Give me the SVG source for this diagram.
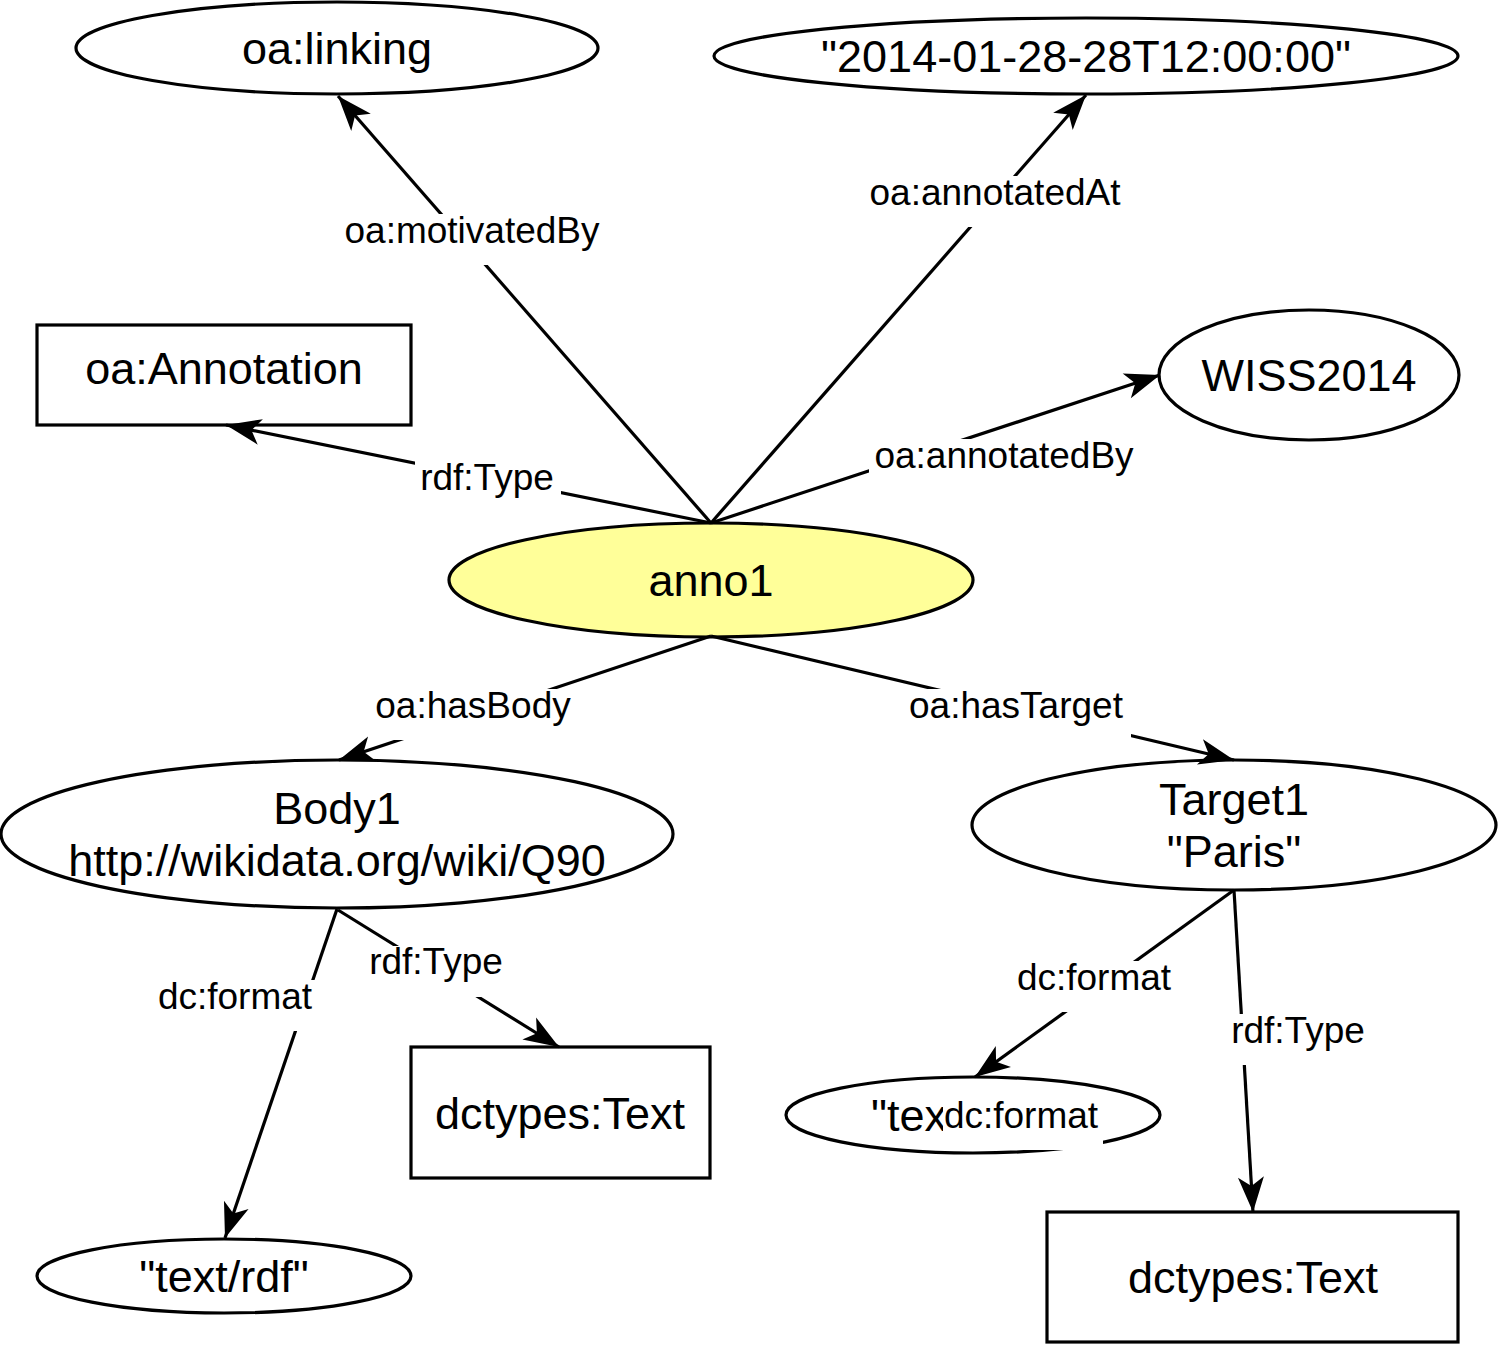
<svg xmlns="http://www.w3.org/2000/svg" width="1502" height="1352" viewBox="0 0 1502 1352">
<style>
.node{fill:#fff;stroke:#000;stroke-width:3.2}
.hl{fill:#ffff99}
.nt{font-family:"Liberation Sans",Arial,sans-serif;font-size:45px;fill:#000;text-anchor:middle}
.edge{stroke:#000;stroke-width:3.2;fill:none;marker-end:url(#arr)}
.lb{fill:#fff;stroke:none}
.lt{font-family:"Liberation Sans",Arial,sans-serif;font-size:37px;fill:#000;text-anchor:middle}
</style>
<defs>
<marker id="arr" markerUnits="userSpaceOnUse" markerWidth="38" markerHeight="32" viewBox="0 -16 38 32" refX="36" refY="0" orient="auto">
<path d="M36,0 L1,-13 L10,0 L1,13 Z" fill="#000"/>
</marker>
</defs>
<rect width="1502" height="1352" fill="#fff"/>

<g id="node-linking"><ellipse class="node" cx="337" cy="48" rx="261" ry="46"/><text class="nt" x="337" y="64">oa:linking</text></g>
<g id="node-date"><ellipse class="node" cx="1086" cy="56" rx="372" ry="38"/><text class="nt" x="1086" y="72">"2014-01-28-28T12:00:00"</text></g>
<g id="node-annotation"><rect class="node" x="37" y="325" width="374" height="100"/><text class="nt" x="224" y="384">oa:Annotation</text></g>
<g id="node-wiss"><ellipse class="node" cx="1309" cy="375" rx="150" ry="65"/><text class="nt" x="1309" y="391">WISS2014</text></g>
<g id="node-anno1"><ellipse class="node hl" cx="711" cy="580" rx="262" ry="57"/><text class="nt" x="711" y="596">anno1</text></g>
<g id="node-body1"><ellipse class="node" cx="337" cy="834" rx="336" ry="74"/><text class="nt" x="337" y="824">Body1</text><text class="nt" x="337" y="876">http://wikidata.org/wiki/Q90</text></g>
<g id="node-target1"><ellipse class="node" cx="1234" cy="825" rx="262" ry="65"/><text class="nt" x="1234" y="815">Target1</text><text class="nt" x="1234" y="867">"Paris"</text></g>
<g id="node-dctypes1"><rect class="node" x="411" y="1047" width="299" height="131"/><text class="nt" x="560" y="1129">dctypes:Text</text></g>
<g id="node-textrdf"><ellipse class="node" cx="224" cy="1276" rx="187" ry="37"/><text class="nt" x="224" y="1292">"text/rdf"</text></g>
<g id="node-textfmt"><ellipse class="node" cx="973" cy="1115" rx="187" ry="38"/><text class="nt" x="871" y="1131" style="text-anchor:start">"tex</text></g>
<g id="node-dctypes2"><rect class="node" x="1047" y="1212" width="411" height="130"/><text class="nt" x="1253" y="1293">dctypes:Text</text></g>

<g id="connectors">
<line class="edge" x1="711" y1="523" x2="338" y2="96"/>
<line class="edge" x1="711" y1="523" x2="1086" y2="95"/>
<line class="edge" x1="711" y1="523" x2="1160" y2="375"/>
<line class="edge" x1="711" y1="523" x2="226" y2="425"/>
<line class="edge" x1="711" y1="636" x2="339" y2="760"/>
<line class="edge" x1="711" y1="636" x2="1234" y2="760"/>
<line class="edge" x1="337" y1="909" x2="225" y2="1238"/>
<line class="edge" x1="338" y1="910" x2="559" y2="1047"/>
<line class="edge" x1="1234" y1="890" x2="975" y2="1077"/>
<line class="edge" x1="1234" y1="890" x2="1253" y2="1212"/>
</g>

<g id="labels">
<rect class="lb" x="339" y="214" width="267" height="51"/><text class="lt" x="472" y="243">oa:motivatedBy</text>
<rect class="lb" x="864" y="176" width="262" height="51"/><text class="lt" x="995" y="205">oa:annotatedAt</text>
<rect class="lb" x="869" y="439" width="270" height="51"/><text class="lt" x="1004" y="468">oa:annotatedBy</text>
<rect class="lb" x="415" y="461" width="146" height="51"/><text class="lt" x="487" y="490">rdf:Type</text>
<rect class="lb" x="369" y="689" width="209" height="51"/><text class="lt" x="473" y="718">oa:hasBody</text>
<rect class="lb" x="901" y="689" width="230" height="51"/><text class="lt" x="1016" y="718">oa:hasTarget</text>
<rect class="lb" x="153" y="980" width="164" height="51"/><text class="lt" x="235" y="1009">dc:format</text>
<rect class="lb" x="364" y="946" width="144" height="51"/><text class="lt" x="436" y="974">rdf:Type</text>
<rect class="lb" x="1012" y="961" width="164" height="51"/><text class="lt" x="1094" y="990">dc:format</text>
<rect class="lb" x="1226" y="1014" width="145" height="51"/><text class="lt" x="1298" y="1043">rdf:Type</text>
<rect class="lb" x="943" y="1099" width="160" height="51"/><text class="lt" x="1021" y="1128">dc:format</text>
</g>
</svg>
